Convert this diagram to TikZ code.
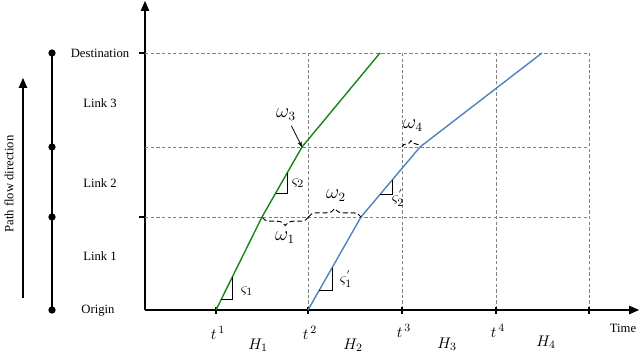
\documentclass[tikz,border=0pt]{standalone}
\usepackage{fontspec}
\setmainfont{Liberation Serif}
\usetikzlibrary{positioning, arrows.meta, decorations.pathreplacing}
\definecolor{pathgreen}{RGB}{20,135,20}
\definecolor{pathblue}{RGB}{80,130,190}

\begin{document}
\begin{tikzpicture}[x=0.025cm, y=-0.025cm, font=\fontsize{9}{10}\selectfont,
  gridline/.style={gray, dash pattern=on 2.4pt off 1.6pt, line width=0.5pt},
  axisline/.style={line width=0.8pt, -{Triangle[length=7pt, width=6pt]}},
  wbrace/.style={decorate, decoration={brace, amplitude=6pt}, dash pattern=on 3.5pt off 2pt, line width=0.7pt},
  slopemark/.style={line width=0.6pt},
  mathlbl/.style={font=\fontsize{11}{12}\selectfont},
  omegalbl/.style={font=\fontsize{13.5}{14}\selectfont}]
\useasboundingbox (0,0) rectangle (640,353);

% axes
\coordinate (orig) at (145,310);
\coordinate (ytop) at (145,1);
\coordinate (xend) at (639,310);
\draw[axisline] (orig) -- (ytop);
\draw[axisline] (orig) -- (xend);

% grid
\foreach \yy in {53,147,217} \draw[gridline] (145,\yy) -- (589,\yy);
\foreach \xx in {308,402,496,589} \draw[gridline] (\xx,53) -- (\xx,310);
\foreach \yy in {53,217} \draw[line width=0.8pt] (139,\yy) -- (145,\yy);
\foreach \xx in {216,308,402,496,589} \draw[line width=0.8pt] (\xx,307) -- (\xx,314);

% links
\draw[line width=0.8pt] (52,53) -- (52,310);
\foreach \yy in {53,147,217,310} \fill (52,\yy) circle (2.6pt);
\draw[axisline] (23,298) -- (23,78);
\node[rotate=90] (pathdir) at (9,184) {Path flow direction};

\node (dest) at (100,53) {Destination};
\node (link3) at (100,103) {Link 3};
\node (link2) at (100,183) {Link 2};
\node (link1) at (100,256) {Link 1};
\node (origin) at (98,311) {Origin};

% time labels
\node[mathlbl] (t1) at (218,333) {$t^{\,1}$};
\node[mathlbl] (t2) at (310,333) {$t^{\,2}$};
\node[mathlbl] (t3) at (404,331) {$t^{\,3}$};
\node[mathlbl] (t4) at (498,331) {$t^{\,4}$};
\node[mathlbl] (h1) at (258,345) {$H_1$};
\node[mathlbl] (h2) at (353,345) {$H_2$};
\node[mathlbl] (h3) at (447,344) {$H_3$};
\node[mathlbl] (h4) at (546,342) {$H_4$};
\node (time) at (623,328) {Time};

% trajectories
\coordinate (g0) at (216,310);
\coordinate (g1) at (262,217);
\coordinate (g2) at (302,147);
\coordinate (g3) at (380,53);
\coordinate (b0) at (308,310);
\coordinate (b1) at (361,217);
\coordinate (b2) at (420,147);
\coordinate (b3) at (542,53);
\draw[pathgreen, line width=1pt] (g0) -- (g1) -- (g2) -- (g3);
\draw[pathblue, line width=1pt] (b0) -- (b1) -- (b2) -- (b3);

% slopes
\draw[slopemark] (232.3,277) -- (232.3,299) -- (221.4,299);
\draw[slopemark] (287.8,173) -- (287.8,193) -- (276,193);
\draw[slopemark] (332,268) -- (332,290) -- (319.4,290);
\draw[slopemark] (392.2,180) -- (392.2,194) -- (380.4,194);
\node[mathlbl] (s1) at (247,291) {$\varsigma_1$};
\node[mathlbl] (s2) at (298,183) {$\varsigma_2$};
\node[mathlbl] (s1b) at (346,279) {$\varsigma_1^{'}$};
\node[mathlbl] (s2b) at (398,198) {$\varsigma_2^{'}$};

% waiting times
\coordinate (t2a) at (308.5,217);
\coordinate (t3a) at (402,147);
\draw[wbrace] (t2a) -- (g1);
\draw[wbrace] (t2a) -- (b1);
\draw[wbrace, decoration={amplitude=4.5pt}] (t3a) -- (b2);
\node[omegalbl] (w1) at (285,238) {$\omega_1$};
\node[omegalbl] (w2) at (336,196) {$\omega_2$};
\node[omegalbl] (w3) at (286,115) {$\omega_3$};
\node[omegalbl] (w4) at (413,126) {$\omega_4$};
\draw[-{Stealth[length=4pt]}, line width=0.6pt] (w3) -- (g2);
\end{tikzpicture}
\end{document}
